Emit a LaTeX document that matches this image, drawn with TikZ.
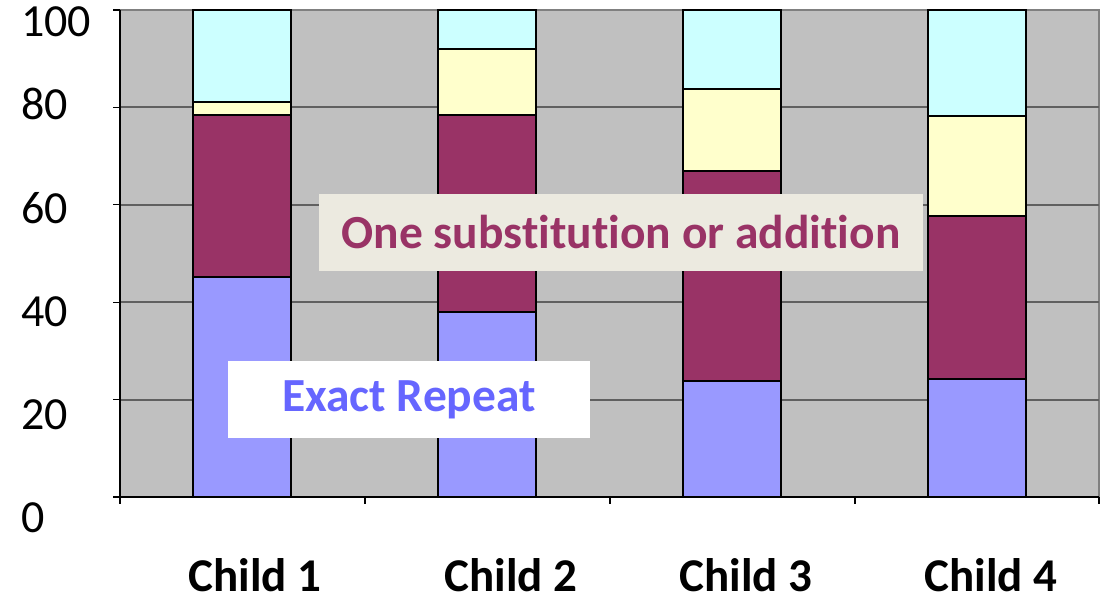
\documentclass[tikz,border=0pt]{standalone}
\usepackage{fontspec}
\setmainfont{Carlito}[Ligatures=NoCommon]
\usetikzlibrary{positioning}
\definecolor{plotgray}{HTML}{C0C0C0}
\definecolor{gridgray}{HTML}{606060}
\definecolor{exactblue}{HTML}{9999FF}
\definecolor{subsred}{HTML}{993366}
\definecolor{twoyellow}{HTML}{FFFFCC}
\definecolor{othercyan}{HTML}{CCFFFF}
\definecolor{textblue}{HTML}{6666FF}
\definecolor{notebg}{HTML}{ECEAE0}
\tikzset{
  grid line/.style={draw=gridgray, line width=2pt},
  seg/.style={draw=black, line width=1.5pt},
  ylab/.style={anchor=base west, inner sep=0pt, font=\fontsize{46}{50}\selectfont},
  xlab/.style={anchor=base, inner sep=0pt, font=\fontsize{47}{50}\selectfont\bfseries},
  note/.style={inner sep=0pt, minimum height=77pt, font=\fontsize{47.5}{50}\selectfont\bfseries}
}
\begin{document}
\begin{tikzpicture}[x=1pt, y=-1pt]
  \useasboundingbox (0,0) rectangle (1100,601);
  % plot area
  \fill[plotgray] (120,10) rectangle (1099,497);
  \draw[gridgray!80, line width=1.5pt] (120,10) -- (1099,10) -- (1099,497);
  \foreach \v in {20,40,60,80}
    \draw[grid line] (120,{497-4.87*\v}) -- (1099,{497-4.87*\v});
  % stacked bars
  \foreach \xc/\a/\b/\c in {242/45.2/78.4/81.1, 487/38.0/78.4/92.0, 732/23.8/66.9/83.8, 977/24.2/57.7/78.2} {
    \filldraw[seg, fill=exactblue] ({\xc-49},497) rectangle ({\xc+49},{497-4.87*\a});
    \filldraw[seg, fill=subsred] ({\xc-49},{497-4.87*\a}) rectangle ({\xc+49},{497-4.87*\b});
    \filldraw[seg, fill=twoyellow] ({\xc-49},{497-4.87*\b}) rectangle ({\xc+49},{497-4.87*\c});
    \filldraw[seg, fill=othercyan] ({\xc-49},{497-4.87*\c}) rectangle ({\xc+49},10);
  }
  % axes
  \draw[black, line width=1.5pt] (120,10) -- (120,497) -- (1099,497);
  \foreach \v in {0,20,40,60,80,100}
    \draw[black, line width=1.2pt] (113,{497-4.87*\v}) -- (120,{497-4.87*\v});
  \foreach \x in {120,365,610,855,1099}
    \draw[black, line width=1.2pt] (\x,497) -- (\x,504);
  % axis labels
  \node[ylab] (lab100) at (21,37) {100};
  \node[ylab] (lab80) at (21,120) {80};
  \node[ylab] (lab60) at (21,224) {60};
  \node[ylab] (lab40) at (21,327) {40};
  \node[ylab] (lab20) at (21,429) {20};
  \node[ylab] (lab0) at (21,532) {0};
  \node[xlab] (child1) at (255,591) {Child 1};
  \node[xlab] (child2) at (511,591) {Child 2};
  \node[xlab] (child3) at (746,591) {Child 3};
  \node[xlab] (child4) at (991,591) {Child 4};
  % notes
  \node[note, fill=notebg, text=subsred, minimum width=604pt] (subs) at (621,232.5) {One substitution or addition};
  \node[note, fill=white, text=textblue, minimum width=362pt] (exact) at (409,399.5) {Exact Repeat};
\end{tikzpicture}
\end{document}
